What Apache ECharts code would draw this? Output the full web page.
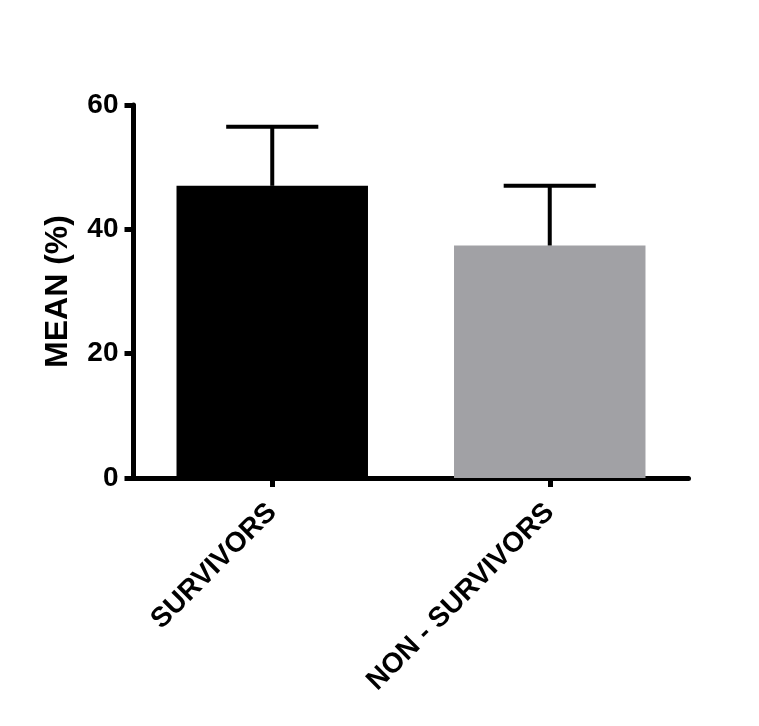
<!DOCTYPE html>
<html>
<head>
<meta charset="utf-8">
<script src="https://cdn.jsdelivr.net/npm/echarts@6/dist/echarts.min.js"></script>
<style>html,body{margin:0;padding:0;background:#fff;}#c{width:759px;height:726px;}</style>
</head>
<body>
<div id="c"></div>
<script>
var categories = ['SURVIVORS', 'NON - SURVIVORS'];
var means = [47, 37.4];
var errorTops = [56.5, 47];
var barColors = ['#000000', '#a1a1a5'];
var yTicks = { min: 0, max: 60, interval: 20 };
var yTitle = 'MEAN (%)';

var chart = echarts.init(document.getElementById('c'));
var FONT = '"Liberation Sans", Arial, Helvetica, sans-serif';

var errData = categories.map(function (c, i) { return [i, means[i], errorTops[i]]; });

chart.setOption({
  animation: false,
  backgroundColor: '#ffffff',
  grid: { left: 133.5, right: 70.5, top: 105, bottom: 248, containLabel: false },
  xAxis: {
    type: 'category',
    data: categories,
    axisLine: { lineStyle: { color: '#000', width: 5 } },
    axisTick: { show: true, alignWithLabel: true, length: 9, lineStyle: { color: '#000', width: 5 } },
    axisLabel: { rotate: 45, margin: 30, color: '#000', fontSize: 28, fontWeight: 'bold', fontFamily: FONT, interval: 0 }
  },
  yAxis: {
    type: 'value',
    min: yTicks.min, max: yTicks.max, interval: yTicks.interval,
    name: yTitle,
    nameLocation: 'middle',
    nameGap: 59,
    nameTextStyle: { color: '#000', fontSize: 32, fontWeight: 'bold', fontFamily: FONT },
    axisLine: { show: true, lineStyle: { color: '#000', width: 5 } },
    axisTick: { show: true, length: 9, lineStyle: { color: '#000', width: 5 } },
    axisLabel: { margin: 15, color: '#000', fontSize: 28, fontWeight: 'bold', fontFamily: FONT },
    splitLine: { show: false }
  },
  series: [
    {
      type: 'bar',
      barWidth: '69%',
      data: means.map(function (v, i) { return { value: v, itemStyle: { color: barColors[i] } }; }),
      z: 2
    },
    {
      type: 'custom',
      data: errData,
      z: 3,
      renderItem: function (params, api) {
        var base = api.coord([api.value(0), api.value(1)]);
        var top = api.coord([api.value(0), api.value(2)]);
        var half = api.size([1, 0])[0] * 0.166;
        var st = { stroke: '#000', lineWidth: 4 };
        return {
          type: 'group',
          children: [
            { type: 'line', shape: { x1: top[0], y1: base[1], x2: top[0], y2: top[1] }, style: st },
            { type: 'line', shape: { x1: top[0] - half, y1: top[1], x2: top[0] + half, y2: top[1] }, style: st }
          ]
        };
      }
    }
  ]
});
</script>
</body>
</html>
